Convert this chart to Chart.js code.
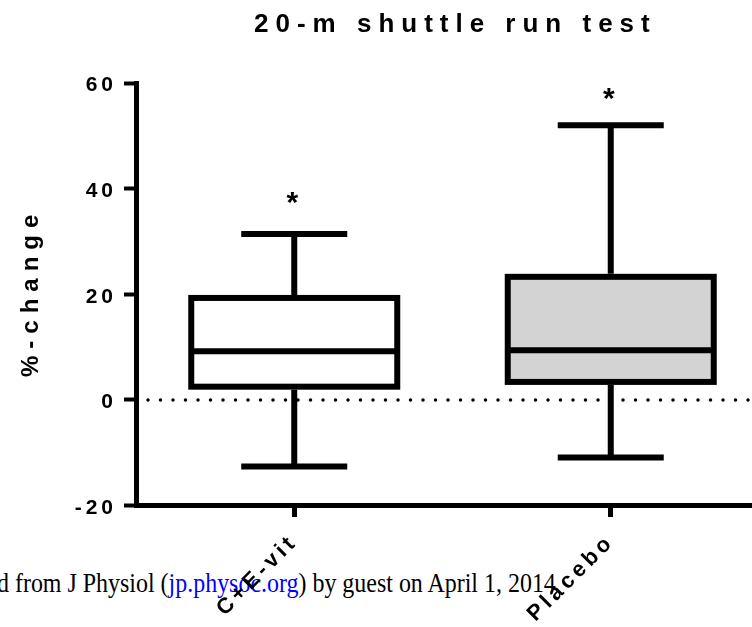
<!DOCTYPE html>
<html>
<head>
<meta charset="utf-8">
<script src="https://cdn.jsdelivr.net/npm/chart.js@4.4.1/dist/chart.umd.min.js"></script>
<style>
  html, body { margin: 0; padding: 0; background: #fff; }
  #wrap { position: relative; width: 752px; height: 627px; overflow: hidden; }
  #wrap canvas { position: absolute; left: 0; top: 0; }
  .source {
    position: absolute; left: -3px; top: 569px; white-space: nowrap;
    font: 28px "Liberation Serif", "Times New Roman", serif; line-height: 28px;
    color: #000; transform: scaleX(0.855); transform-origin: left top;
  }
  .source a { color: #0000ff; text-decoration: none; }
</style>
</head>
<body>
<div id="wrap">
  <div class="source">d from J Physiol (<a>jp.physoc.org</a>) by guest on April 1, 2014</div>
  <canvas id="chart" width="775" height="627"></canvas>
</div>
<script>
// box plot values (% change)
const groups        = ['C+E-vit', 'Placebo'];
const lowWhisker    = [-12.6, -10.9];
const lowerQuartile = [2.5, 3.4];
const medians       = [9.2, 9.4];
const upperQuartile = [19.3, 23.3];
const highWhisker   = [31.4, 52.0];
const sigMarks      = ['*', '*'];
const sigMarkAt     = [38.2, 58.0];
const yTicks        = [-20, 0, 20, 40, 60];

const boxFills = ['#ffffff', '#d3d3d3'];
const FONT = '"Liberation Sans", Arial, Helvetica, sans-serif';
const STROKE = 6;

// canvas letter spacing for the widely tracked Prism-style tick labels
const spacing = {
    id: 'spacing',
    beforeLayout(chart) { chart.ctx.letterSpacing = '4px'; },
    beforeDraw(chart) { chart.ctx.letterSpacing = '4px'; },
};

const boxPlot = {
    id: 'boxPlot',
    beforeDatasetsDraw(chart) {
        // dotted reference line at 0
        const { ctx, chartArea, scales: { y } } = chart;
        const py = y.getPixelForValue(0);
        ctx.save();
        ctx.strokeStyle = '#000';
        ctx.lineWidth = 3.5;
        ctx.lineCap = 'round';
        ctx.setLineDash([0, 12.5]);
        ctx.beginPath();
        ctx.moveTo(chartArea.left + 12, py);
        ctx.lineTo(chartArea.right, py);
        ctx.stroke();
        ctx.restore();
    },
    afterDatasetsDraw(chart) {
        const { ctx, scales: { y } } = chart;
        const bars = chart.getDatasetMeta(0).data;
        ctx.save();
        ctx.strokeStyle = '#000';
        ctx.fillStyle = '#000';
        ctx.lineWidth = STROKE;
        ctx.lineCap = 'butt';
        bars.forEach((bar, i) => {
            const { x, width } = bar.getProps(['x', 'width'], true);
            const top = y.getPixelForValue(upperQuartile[i]);
            const bot = y.getPixelForValue(lowerQuartile[i]);
            const hi = y.getPixelForValue(highWhisker[i]);
            const lo = y.getPixelForValue(lowWhisker[i]);
            const med = y.getPixelForValue(medians[i]);
            const cap = 53;
            ctx.strokeRect(x - width / 2, top, width, bot - top);
            ctx.beginPath();
            ctx.moveTo(x - width / 2, med); ctx.lineTo(x + width / 2, med);
            ctx.moveTo(x, top - STROKE / 2); ctx.lineTo(x, hi);
            ctx.moveTo(x - cap, hi); ctx.lineTo(x + cap, hi);
            ctx.moveTo(x, bot + STROKE / 2); ctx.lineTo(x, lo);
            ctx.moveTo(x - cap, lo); ctx.lineTo(x + cap, lo);
            ctx.stroke();

            ctx.letterSpacing = '0px';
            ctx.font = 'bold 30px ' + FONT;
            ctx.textAlign = 'center';
            ctx.textBaseline = 'alphabetic';
            ctx.fillText(sigMarks[i], x - 2, y.getPixelForValue(sigMarkAt[i]) + 14);
        });
        ctx.restore();
    },
    afterDraw(chart) {
        const { ctx } = chart;
        ctx.save();
        ctx.fillStyle = '#000';
        ctx.textAlign = 'left';
        ctx.textBaseline = 'alphabetic';
        // chart title
        ctx.letterSpacing = '7px';
        ctx.font = 'bold 26px ' + FONT;
        ctx.fillText('20-m shuttle run test', 254, 32);
        // y axis title
        ctx.letterSpacing = '7px';
        ctx.font = 'bold 24px ' + FONT;
        ctx.translate(37.5, 377);
        ctx.rotate(-Math.PI / 2);
        ctx.fillText('%-change', 0, 0);
        ctx.restore();
    },
};

new Chart(document.getElementById('chart'), {
    type: 'bar',
    data: {
        labels: groups,
        datasets: [{
            data: groups.map((_, i) => [lowerQuartile[i], upperQuartile[i]]),
            backgroundColor: boxFills,
            borderWidth: 0,
            barThickness: 206,
        }],
    },
    options: {
        responsive: false,
        animation: false,
        events: [],
        layout: { padding: { top: 83, left: 0, right: 6, bottom: 0 } },
        plugins: {
            legend: { display: false },
            tooltip: { enabled: false },
            title: { display: false },
        },
        scales: {
            x: {
                offset: true,
                afterFit(scale) { scale.height = 627 - 505.5; },
                border: { display: true, color: '#000', width: 5 },
                grid: { offset: false, drawOnChartArea: false, drawTicks: true, tickLength: 11.5, tickWidth: 5, tickColor: '#000' },
                ticks: {
                    color: '#000',
                    minRotation: 45,
                    maxRotation: 45,
                    padding: 12,
                    font: { family: FONT, size: 22, weight: 'bold' },
                },
            },
            y: {
                min: -20,
                max: 60,
                afterFit(scale) { scale.width = 136; },
                afterBuildTicks(scale) { scale.ticks = yTicks.map(v => ({ value: v })); },
                border: { display: true, color: '#000', width: 5 },
                grid: { drawOnChartArea: false, drawTicks: true, tickLength: 12, tickWidth: 4, tickColor: '#000' },
                ticks: {
                    color: '#000',
                    padding: 7,
                    labelOffset: 2.5,
                    font: { family: FONT, size: 21, weight: 'bold' },
                },
            },
        },
    },
    plugins: [spacing, boxPlot],
});
</script>
</body>
</html>
